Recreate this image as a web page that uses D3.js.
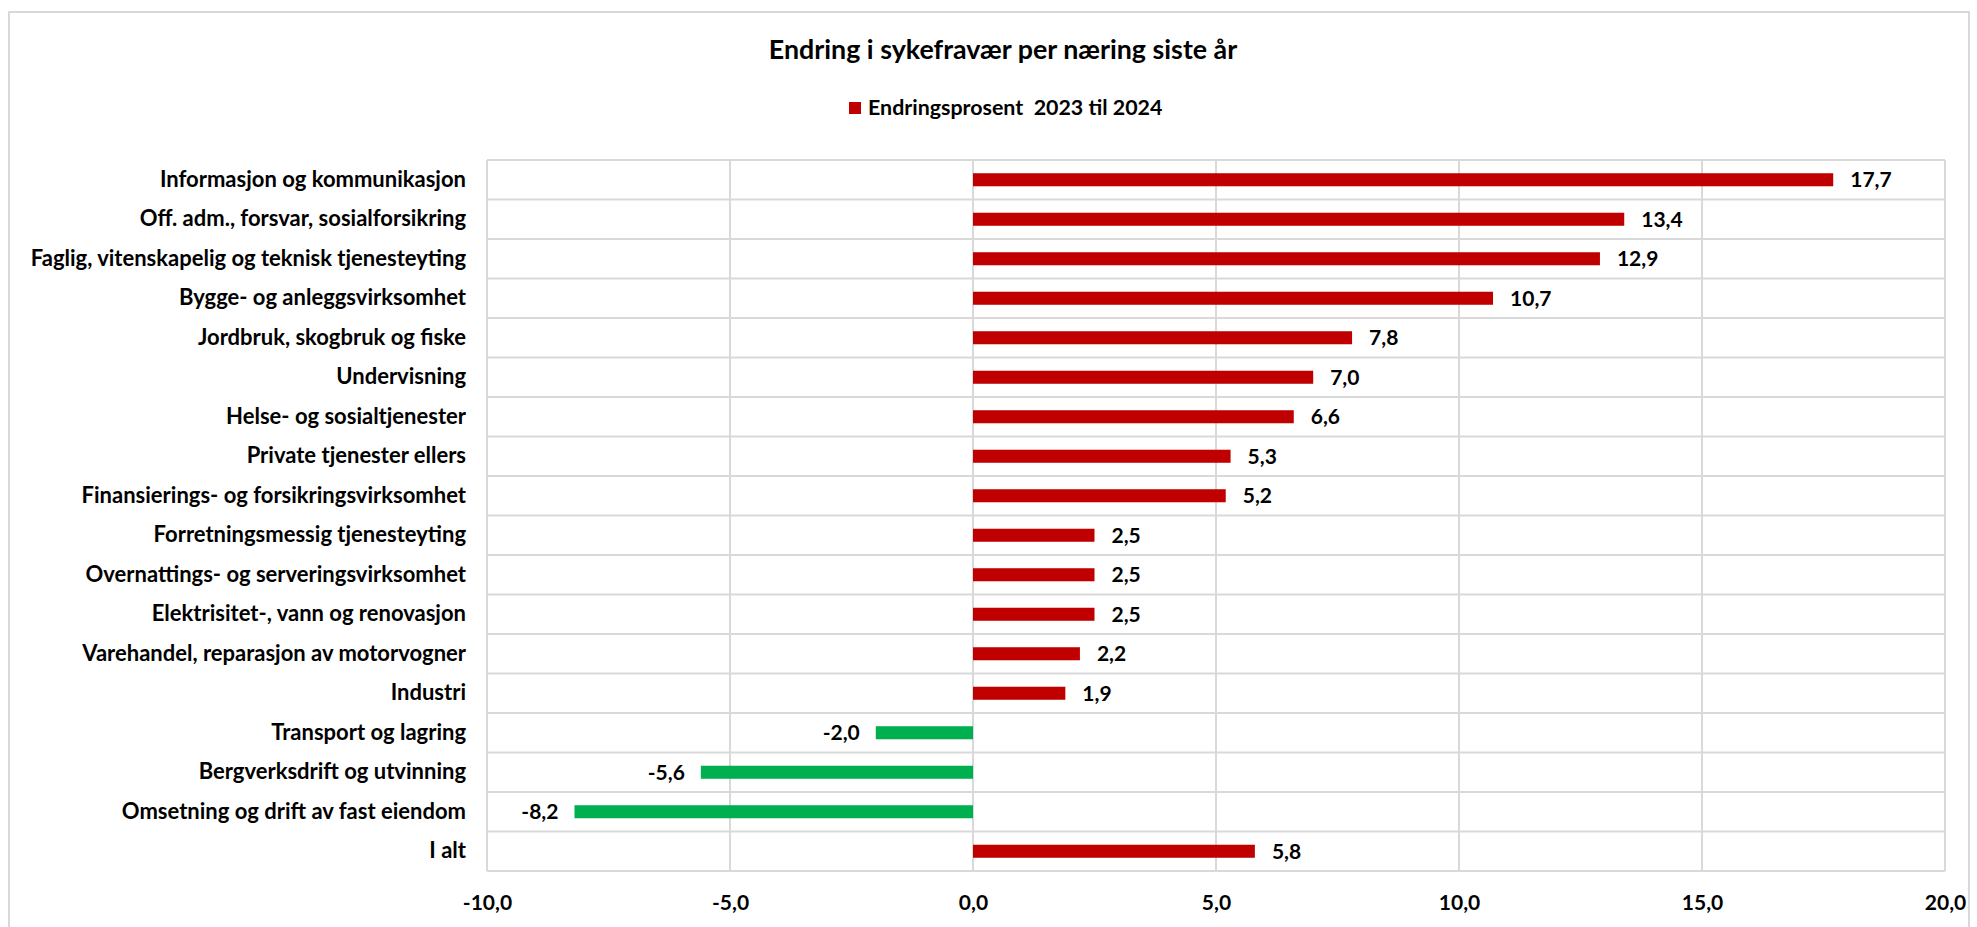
<!DOCTYPE html>
<html><head><meta charset="utf-8">
<script src="https://cdn.jsdelivr.net/npm/d3@7"></script>
<style>
html,body{margin:0;padding:0;background:#fff;}
svg text{font-family:Lato, "Noto Sans", sans-serif;fill:#000;}
</style></head>
<body>
<svg id="c" width="1977" height="927"></svg>
<script>
const categories = [
  "Informasjon og kommunikasjon",
  "Off. adm., forsvar, sosialforsikring",
  "Faglig, vitenskapelig og teknisk tjenesteyting",
  "Bygge- og anleggsvirksomhet",
  "Jordbruk, skogbruk og fiske",
  "Undervisning",
  "Helse- og sosialtjenester",
  "Private tjenester ellers",
  "Finansierings- og forsikringsvirksomhet",
  "Forretningsmessig tjenesteyting",
  "Overnattings- og serveringsvirksomhet",
  "Elektrisitet-, vann og renovasjon",
  "Varehandel, reparasjon av motorvogner",
  "Industri",
  "Transport og lagring",
  "Bergverksdrift og utvinning",
  "Omsetning og drift av fast eiendom",
  "I alt"
];
const values = [17.7, 13.4, 12.9, 10.7, 7.8, 7.0, 6.6, 5.3, 5.2, 2.5, 2.5, 2.5, 2.2, 1.9, -2.0, -5.6, -8.2, 5.8];
const xTicks = [-10, -5, 0, 5, 10, 15, 20];
const title = "Endring i sykefravær per næring siste år";
const seriesName = "Endringsprosent  2023 til 2024";

(function(){
const locale = d3.formatLocale({decimal: ",", thousands: " ", grouping: [3], currency: ["", " kr"], minus: "-"});
const fmt = locale.format(".1f");

const svg = d3.select("#c");
const pL = 487, pR = 1945, pT = 160, pB = 871;
const grid = "#d9d9d9";
const posColor = "#c00000", negColor = "#00b050";

svg.append("rect").attr("x", 9).attr("y", 12).attr("width", 1960).attr("height", 930)
  .attr("fill", "none").attr("stroke", grid).attr("stroke-width", 2);

const x = d3.scaleLinear().domain([-10, 20]).range([pL, pR]);
const y = d3.scaleBand().domain(categories).range([pT, pB]).padding(0);

svg.append("g").selectAll("line").data(xTicks).join("line")
  .attr("x1", d => x(d)).attr("x2", d => x(d))
  .attr("y1", pT).attr("y2", pB)
  .attr("stroke", grid).attr("stroke-width", 2);

const bounds = categories.map(c => y(c)).concat([y(categories[categories.length-1]) + y.bandwidth()]);
svg.append("g").selectAll("line").data(bounds).join("line")
  .attr("x1", pL).attr("x2", pR)
  .attr("y1", d => d).attr("y2", d => d)
  .attr("stroke", grid).attr("stroke-width", 2);

const barH = y.bandwidth() * 0.33;
svg.append("g").selectAll("rect").data(categories).join("rect")
  .attr("x", (d, i) => x(Math.min(0, values[i])))
  .attr("width", (d, i) => Math.abs(x(values[i]) - x(0)))
  .attr("y", d => y(d) + y.bandwidth() / 2 - barH / 2)
  .attr("height", barH)
  .attr("fill", (d, i) => values[i] < 0 ? negColor : posColor);

svg.append("g").selectAll("text").data(categories).join("text")
  .attr("x", (d, i) => values[i] < 0 ? x(values[i]) - 16 : x(values[i]) + 17)
  .attr("y", d => y(d) + y.bandwidth() / 2)
  .attr("dy", "0.35em")
  .attr("text-anchor", (d, i) => values[i] < 0 ? "end" : "start")
  .attr("font-size", 21).attr("font-weight", "bold")
  .text((d, i) => fmt(values[i]));

const yAxis = d3.axisLeft(y).tickSize(0).tickPadding(21);
const gy = svg.append("g").attr("transform", `translate(${pL},0)`).call(yAxis);
gy.select(".domain").remove();
gy.selectAll("text").attr("font-size", 22).attr("font-weight", "bold")
  .style("font-family", "Lato").attr("fill", "#000");

const xAxis = d3.axisBottom(x).tickValues(xTicks).tickSize(0).tickPadding(24).tickFormat(fmt);
const gx = svg.append("g").attr("transform", `translate(0,${pB})`).call(xAxis);
gx.select(".domain").remove();
gx.selectAll("text").attr("font-size", 21).attr("font-weight", "bold")
  .style("font-family", "Lato").attr("fill", "#000");

svg.append("text").attr("x", 1003).attr("y", 50).attr("dy", "0.35em")
  .attr("text-anchor", "middle").attr("font-size", 26.8).attr("font-weight", "bold").text(title);

svg.append("rect").attr("x", 849).attr("y", 102).attr("width", 12).attr("height", 12).attr("fill", posColor);
svg.append("text").attr("x", 868).attr("y", 108).attr("dy", "0.35em")
  .attr("font-size", 21.4).attr("font-weight", "bold")
  .style("white-space", "pre").attr("xml:space", "preserve").text(seriesName);
})();
</script>
</body></html>
